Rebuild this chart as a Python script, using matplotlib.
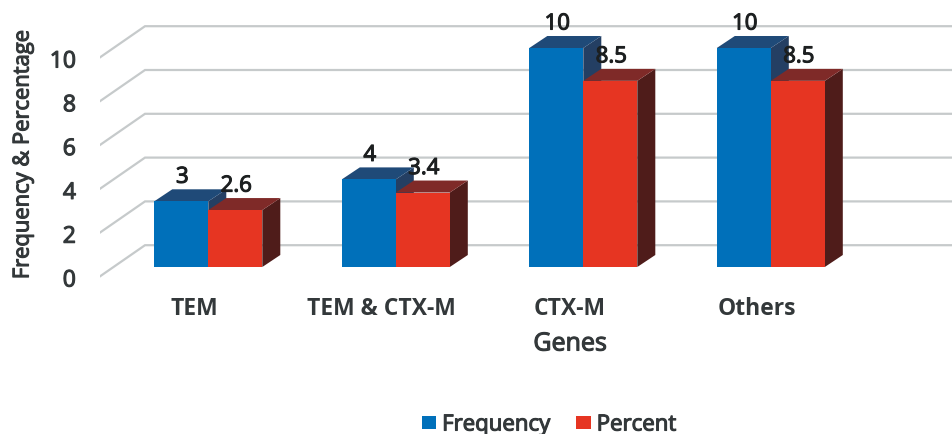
import matplotlib
matplotlib.use("Agg")
import matplotlib.pyplot as plt
import matplotlib.patheffects as pe
from matplotlib.patches import Polygon, Patch
from matplotlib.transforms import ScaledTranslation

genes = ["TEM", "TEM & CTX-M", "CTX-M", "Others"]
frequency = [3, 4, 10, 10]
percent = [2.6, 3.4, 8.5, 8.5]
grid_values = [0, 2, 4, 6, 8, 10]

W, H = 952, 434
PX_PER_CAT = 187.5     # horizontal pixels between categories
PX_PER_UNIT = 21.9     # vertical pixels per value unit
CAT0_PX = 208.3        # pixel x of the first category centre
BASE_PX = 267.0        # pixel y of value 0 at the bar fronts
AX_LEFT, AX_BOTTOM = 99.5, 291.0

BAR_W = 54 / PX_PER_CAT
BAR_DX, BAR_DY = 18 / PX_PER_CAT, 12 / PX_PER_UNIT          # bar depth
FLOOR_DX, FLOOR_DY = 45.5 / PX_PER_CAT, 31.5 / PX_PER_UNIT  # wall depth
FRONT_X = (AX_LEFT - CAT0_PX) / PX_PER_CAT
FRONT_Y = -9.7 / PX_PER_UNIT

TEXT = "#33383a"
FONT = "Open Sans"
plt.rcParams["font.family"] = FONT


def heavier(artist, color, width=0.8):
    """Thicken regular-weight glyphs to a semi-bold look."""
    artist.set_path_effects([pe.withStroke(linewidth=width, foreground=color)])


fig = plt.figure(figsize=(W / 100, H / 100), dpi=100)
ax = fig.add_axes([AX_LEFT / W, 1 - AX_BOTTOM / H, 1 - AX_LEFT / W, AX_BOTTOM / H])
ax.set_xlim(FRONT_X, (W - CAT0_PX) / PX_PER_CAT)
ax.set_ylim((BASE_PX - AX_BOTTOM) / PX_PER_UNIT, BASE_PX / PX_PER_UNIT)
for s in ax.spines.values():
    s.set_visible(False)
ax.tick_params(length=0)

# Receding wall lines: one diagonal on the side wall, then straight across the back
for v in grid_values:
    ax.plot([FRONT_X, FRONT_X + FLOOR_DX, ax.get_xlim()[1]],
            [v + FRONT_Y, v + FRONT_Y + FLOOR_DY, v + FRONT_Y + FLOOR_DY],
            color="#c6cacb", lw=1.6, zorder=1, solid_joinstyle="miter")


def box(x0, value, front, top, side, z):
    """Extruded bar: front face plus top and right faces."""
    x1 = x0 + BAR_W
    ax.add_patch(Polygon([(x1, 0), (x1 + BAR_DX, BAR_DY), (x1 + BAR_DX, value + BAR_DY), (x1, value)],
                         fc=side, ec="none", zorder=z))
    ax.add_patch(Polygon([(x0, value), (x0 + BAR_DX, value + BAR_DY), (x1 + BAR_DX, value + BAR_DY), (x1, value)],
                         fc=top, ec="none", zorder=z))
    ax.bar(x0, value, BAR_W, align="edge", color=front, zorder=z + 0.1)


for i, (f, p) in enumerate(zip(frequency, percent)):
    box(i - BAR_W, f, "#0070ba", "#1f4a78", "#243f63", 3)
    box(i, p, "#e63522", "#7f2a28", "#4f1c1a", 4)
    for xpos, val in ((i - BAR_W / 2, f), (i + BAR_W / 2, p)):
        note = ax.annotate(f"{val:g}", (xpos, val), xytext=(1, 24), textcoords="offset pixels",
                           ha="center", va="center", fontsize=16, color="#1c1f20", zorder=6)
        heavier(note, "#1c1f20")

# Axis labels sit on the front edge of the floor, down and left of the bars
ax.set_xticks(range(len(genes)), genes, fontsize=16.5, color=TEXT, weight="bold")
ax.set_yticks(grid_values, [str(v) for v in grid_values], fontsize=16.5, color=TEXT)
ax.tick_params(axis="x", pad=4.5)
ax.tick_params(axis="y", pad=17)
x_shift = ScaledTranslation(-14 / 100, 0, fig.dpi_scale_trans)
y_shift = ScaledTranslation(0, -10.5 / 100, fig.dpi_scale_trans)
for lab in ax.get_xticklabels():
    lab.set_transform(lab.get_transform() + x_shift)
for lab in ax.get_yticklabels():
    lab.set_transform(lab.get_transform() + y_shift)
    heavier(lab, TEXT)

xname = fig.text(570 / W, 1 - 344 / H, "Genes", ha="center", va="center", fontsize=18, color=TEXT)
heavier(xname, TEXT)
yname = fig.text(23 / W, 1 - 154 / H, "Frequency & Percentage", rotation=90, ha="center", va="center",
                 fontsize=15.8, color=TEXT)
heavier(yname, TEXT)

handles = [Patch(fc="#0070ba", label="Frequency"), Patch(fc="#e63522", label="Percent")]
leg = fig.legend(handles=handles, loc="center", bbox_to_anchor=(549 / W, 1 - 425 / H), ncol=2, frameon=False,
                 prop={"size": 16, "family": FONT}, labelcolor=TEXT,
                 handlelength=0.65, handleheight=0.55, handletextpad=0.27, columnspacing=1.17, borderpad=0)
for t in leg.get_texts():
    heavier(t, TEXT)

fig.savefig("out.png", dpi=100, facecolor="white")
